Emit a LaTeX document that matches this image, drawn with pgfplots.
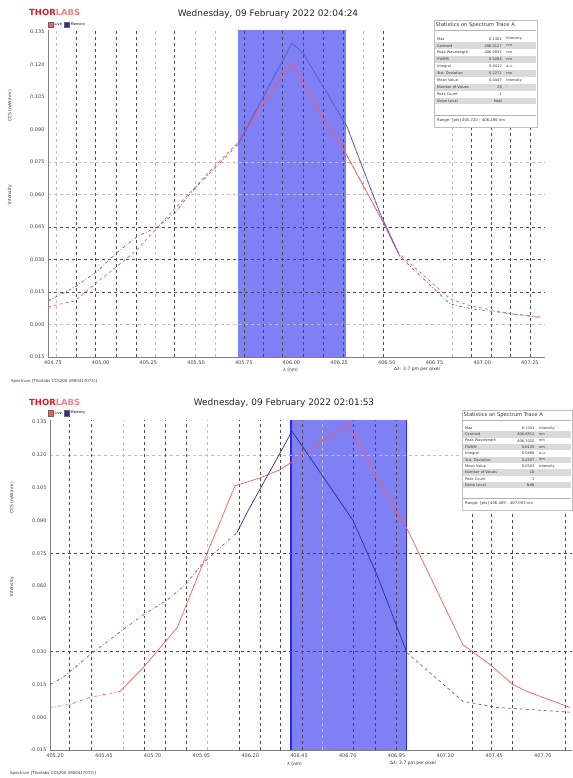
\documentclass[border=0pt]{standalone}
\usepackage{pgfplots}
\pgfplotsset{compat=1.18}
\usepackage{fontspec}
\setmainfont{DejaVu Sans}

\definecolor{trred}{RGB}{255,90,90}
\definecolor{trblue}{RGB}{95,95,205}
\definecolor{trnavy}{RGB}{45,45,160}
\definecolor{band}{RGB}{128,128,245}
\definecolor{bandedge}{RGB}{40,40,255}
\definecolor{thor}{RGB}{225,25,35}
\definecolor{thorlt}{RGB}{240,130,135}
\definecolor{darkgrid}{RGB}{75,75,75}
\definecolor{lightgrid}{RGB}{190,190,190}
\definecolor{rowgray}{RGB}{218,218,218}

\pgfplotsset{
  osa/.style={
    scale only axis, set layers,
    anchor=south west,
    axis x line*=bottom, axis y line*=left,
    axis line style={black!50, line width=0.6pt},
    ymin=-0.015, ymax=0.136,
    ytick={-0.015,0,0.015,0.03,0.045,0.06,0.075,0.09,0.105,0.12,0.135},
    major tick length=0pt, minor tick length=0pt,
    tick style={draw=none},
    ticklabel style={font=\fontsize{5}{6}\selectfont, text=black!75},
    /pgf/number format/assume math mode=true,
    yticklabel style={/pgf/number format/fixed, /pgf/number format/fixed zerofill, /pgf/number format/precision=3},
    xticklabel style={/pgf/number format/fixed, /pgf/number format/fixed zerofill, /pgf/number format/precision=2},
    xminorgrids, yminorgrids,
    minor grid style={lightgrid, dashed, line width=0.5pt},
    major grid style={darkgrid, dashed, line width=0.8pt},
    extra tick style={grid=major},
    extra x tick labels={}, extra y tick labels={},
    every axis plot/.append style={line width=0.7pt, mark=none},
  }
}

% statistics box: left, top, width, height, row step, rows, range text
\newcommand{\statsbox}[7]{%
  \fill[white] (#1,#2) rectangle ++(#3,-#4);
  \draw[black!25, line width=0.4pt] (#1,#2) rectangle ++(#3,-#4);
  \node[anchor=west, inner sep=0pt, font=\fontsize{5.2}{6}\selectfont, text=black!80] at (#1+1.5,#2-5.5) {Statistics on Spectrum Trace A};
  \draw[black!30, line width=0.3pt] (#1+1,#2-10.5) -- ++(#3-2,0);
  \foreach \lab/\val/\unit [count=\i] in {#6}{%
    \pgfmathsetmacro\yy{#2-12-\i*#5}
    \ifodd\i\relax\else
      \fill[rowgray] (#1+1,\yy+#5/2) rectangle (#1+#3-1,\yy-#5/2);
    \fi
    \node[anchor=west, inner sep=0pt, font=\fontsize{3.6}{4}\selectfont, text=black!80] at (#1+3,\yy) {\lab};
    \node[anchor=east, inner sep=0pt, font=\fontsize{3.6}{4}\selectfont, text=black!80] at (#1+0.66*#3,\yy) {\val};
    \node[anchor=west, inner sep=0pt, font=\fontsize{3.6}{4}\selectfont, text=black!80] at (#1+0.70*#3,\yy) {\unit};
  }
  \draw[black!30, line width=0.3pt] (#1+1,#2-#4+12) -- ++(#3-2,0);
  \node[anchor=west, inner sep=0pt, font=\fontsize{3.8}{4}\selectfont, text=black!80] at (#1+3,#2-#4+7) {#7};
}

\begin{document}
\begin{tikzpicture}[x=1bp,y=1bp]
\path (0,0) rectangle (572,778);

% ---------------- top panel ----------------
\begin{axis}[osa, at={(48bp,421bp)}, width=497bp, height=327bp,
  xmin=404.724, xmax=407.329,
  xtick={404.75,405.00,405.25,405.50,405.75,406.00,406.25,406.50,406.75,407.00,407.25},
  minor xtick={404.766,405.285,405.494,405.599,406.375,406.841},
  extra x ticks={404.871,404.975,405.080,405.185,405.389,405.751,405.851,405.955,406.060,406.165,406.270,406.480,406.941,407.046,407.150,407.250},
  minor ytick={0,0.06,0.075},
  extra y ticks={0.015,0.03,0.045}]
\addplot[on layer=axis background, fill=band, draw=none] coordinates
  {(405.720,-0.015) (405.720,0.136) (406.286,0.136) (406.286,-0.015)} -- cycle;
% reference trace
\addplot[trred, dashed] coordinates {
  (404.724,0.0082) (404.865,0.0109) (404.981,0.0195) (405.085,0.0268) (405.190,0.0345)
  (405.295,0.0445) (405.389,0.0536) (405.468,0.0609) (405.599,0.0732) (405.720,0.0841)
  (405.851,0.1018) (406.003,0.1209) (406.176,0.0936) (406.270,0.0814) (406.480,0.0473)
  (406.558,0.0332) (406.831,0.0118) (406.941,0.0086) (407.150,0.0050) (407.302,0.0036)};
\addplot[trred] coordinates {
  (405.720,0.0841) (405.851,0.1018) (406.003,0.1209) (406.176,0.0936) (406.270,0.0814)
  (406.480,0.0473) (406.558,0.0332)};
% measured trace
\addplot[trblue, dash dot] coordinates {
  (404.724,0.0109) (404.865,0.0173) (404.981,0.0245) (405.085,0.0332) (405.190,0.0405)
  (405.295,0.0450) (405.389,0.0514) (405.468,0.0605) (405.599,0.0723) (405.720,0.0832)
  (406.003,0.1300) (406.060,0.1254) (406.291,0.0914) (406.464,0.0514) (406.569,0.0314)
  (406.831,0.0095) (406.941,0.0073) (407.150,0.0050) (407.302,0.0032)};
\addplot[trblue] coordinates {
  (405.720,0.0832) (406.003,0.1300) (406.060,0.1254) (406.291,0.0914) (406.464,0.0514)
  (406.569,0.0314)};
\end{axis}

% ---------------- bottom panel ----------------
\begin{axis}[osa, at={(50bp,28bp)}, width=522bp, height=330bp,
  xmin=405.174, xmax=407.849,
  xtick={405.20,405.45,405.70,405.95,406.20,406.45,406.70,406.95,407.20,407.45,407.70},
  minor xtick={405.548,405.979,406.568},
  extra x ticks={405.272,405.384,405.656,405.764,405.871,406.143,406.250,406.353,406.465,406.727,406.839,406.947,407.336,407.434,407.541,407.813},
  minor ytick={0.12},
  extra y ticks={0.03,0.075}]
\addplot[on layer=axis background, fill=band, draw=none] coordinates
  {(406.409,-0.015) (406.409,0.136) (407.003,0.136) (407.003,-0.015)} -- cycle;
\addplot[on layer=axis background, bandedge, line width=1.1pt] coordinates {(406.409,-0.015) (406.409,0.136)};
\addplot[on layer=axis background, bandedge, line width=1.1pt] coordinates {(407.003,-0.015) (407.003,0.136)};
% reference trace
\addplot[trred, dash dot] coordinates {
  (405.174,0.0045) (405.277,0.0059) (405.379,0.0091) (405.533,0.0118)};
\addplot[trred] coordinates {
  (405.533,0.0118) (405.651,0.0227) (405.825,0.0409) (405.979,0.0750) (406.122,0.1059)
  (406.250,0.1095) (406.353,0.1132) (406.701,0.1341) (406.952,0.0936) (407.008,0.0855)
  (407.290,0.0332) (407.428,0.0241) (407.546,0.0150) (407.618,0.0118) (407.838,0.0045)};
% measured trace
\addplot[trblue, dash dot] coordinates {
  (405.174,0.0150) (405.241,0.0182) (405.379,0.0286) (405.548,0.0400) (405.651,0.0468)
  (405.774,0.0536) (405.866,0.0605) (405.958,0.0705) (406.132,0.0845)};
\addplot[trnavy] coordinates {
  (406.132,0.0845) (406.189,0.0945) (406.353,0.1209) (406.414,0.1309) (406.727,0.0900)
  (406.850,0.0650) (407.003,0.0295)};
\addplot[trblue, dashed] coordinates {
  (407.003,0.0295) (407.290,0.0073) (407.464,0.0045) (407.838,0.0023)};
\end{axis}

% ---------------- decorations ----------------
% logos
\node[anchor=west, inner sep=0pt, font=\fontsize{8.5}{9}\selectfont\bfseries] at (29,766) {\textcolor{thor}{THOR}\textcolor{thorlt}{LABS}};
\node[anchor=west, inner sep=0pt, font=\fontsize{8.5}{9}\selectfont\bfseries] at (29,376) {\textcolor{thor}{THOR}\textcolor{thorlt}{LABS}};
% titles
\node[font=\fontsize{9}{10}\selectfont, text=black!85] at (268,764) {Wednesday, 09 February 2022 02:04:24};
\node[font=\fontsize{9}{10}\selectfont, text=black!85] at (284,375) {Wednesday, 09 February 2022 02:01:53};
% legends
\foreach \yl in {753.5,365} {
  \fill[trred, draw=black!60, line width=0.3pt] (48,\yl-2.7) rectangle ++(5.5,5.5);
  \node[anchor=west, inner sep=0pt, font=\fontsize{3.6}{4}\selectfont] at (54.5,\yl) {Live};
  \fill[trnavy, draw=black!60, line width=0.3pt] (64,\yl-2.7) rectangle ++(5.5,5.5);
  \node[anchor=west, inner sep=0pt, font=\fontsize{3.6}{4}\selectfont] at (70.5,\yl) {Memory};
}
% y labels
\node[rotate=90, font=\fontsize{4.5}{5}\selectfont, text=black!80] at (10,672) {CCS (mW/nm)};
\node[rotate=90, font=\fontsize{4.5}{5}\selectfont, text=black!80] at (10,583) {Intensity};
\node[rotate=90, font=\fontsize{4.5}{5}\selectfont, text=black!80] at (12,280) {CCS (mW/nm)};
\node[rotate=90, font=\fontsize{4.5}{5}\selectfont, text=black!80] at (12,191) {Intensity};
% x labels
\node[anchor=west, inner sep=0pt, font=\fontsize{4.5}{5}\selectfont, text=black!80] at (283,408) {λ (nm)};
\node[inner sep=0pt, font=\fontsize{4.5}{5}\selectfont, text=black!80] at (417,409) {Δλ: 3.7 pm per pixel};
\node[anchor=west, inner sep=0pt, font=\fontsize{4.5}{5}\selectfont, text=black!80] at (287,14) {λ (nm)};
\node[inner sep=0pt, font=\fontsize{4.5}{5}\selectfont, text=black!80] at (413,15) {Δλ: 3.7 pm per pixel};
% footnotes
\node[anchor=west, inner sep=0pt, font=\fontsize{4}{5}\selectfont, text=black!80] at (11,397) {Spectrum [Thorlabs CCS200 (M00417072)]};
\node[anchor=west, inner sep=0pt, font=\fontsize{4}{5}\selectfont, text=black!80] at (10,5) {Spectrum [Thorlabs CCS200 (M00417072)]};
% statistics boxes
\statsbox{434}{758}{103}{107}{6.9}{Max/0.1302/Intensity, Centroid/406.0127/nm, Peak Wavelength/406.0031/nm, FWHM/0.5284/nm, Integral/0.0412/a.u., Std. Deviation/0.2271/nm, Mean Value/0.0447/Intensity, Number of Values/20/-, Peak Count/1/, Noise Level/NaN/}{Range: [pts] 405.720 -- 406.286 nm}
\statsbox{462}{368}{110}{100}{6.3}{Max/0.1341/Intensity, Centroid/406.6512/nm, Peak Wavelength/406.7010/nm, FWHM/0.6135/nm, Integral/0.0468/a.u., Std. Deviation/0.2507/nm, Mean Value/0.0503/Intensity, Number of Values/18/-, Peak Count/1/, Noise Level/NaN/}{Range: [pts] 406.409 -- 407.003 nm}
\end{tikzpicture}
\end{document}
